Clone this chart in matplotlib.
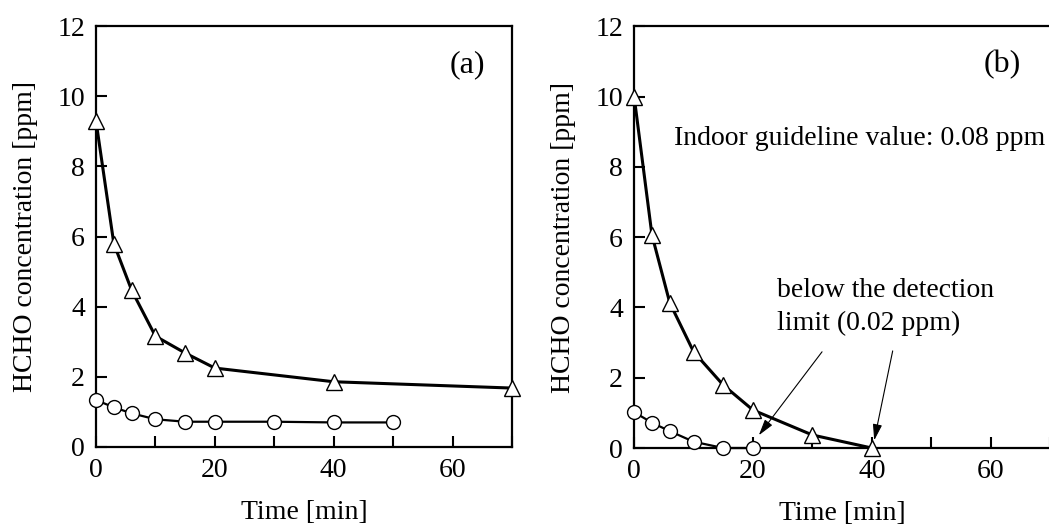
import numpy as np
import matplotlib
matplotlib.use("Agg")
import matplotlib.pyplot as plt

plt.rcParams['font.family'] = ['Liberation Serif', 'DejaVu Serif']
plt.rcParams['font.size'] = 20

# panel (a)
ta_tri = [0, 3, 6, 10, 15, 20, 40, 70]
ca_tri = [9.3, 5.8, 4.47, 3.16, 2.68, 2.25, 1.86, 1.68]
ta_cir = [0, 3, 6, 10, 15, 20, 30, 40, 50]
ca_cir = [1.34, 1.13, 0.96, 0.79, 0.72, 0.72, 0.72, 0.70, 0.70]

# panel (b)
tb_tri = [0, 3, 6, 10, 15, 20, 30, 40]
cb_tri = [10.0, 6.06, 4.13, 2.74, 1.79, 1.08, 0.37, 0.0]
tb_cir = [0, 3, 6, 10, 15, 20]
cb_cir = [1.02, 0.72, 0.48, 0.18, 0.0, 0.0]

xticks = [0, 10, 20, 30, 40, 50, 60, 70]
xlabels = ['0', '', '20', '', '40', '', '60', '']
yticks = [0, 2, 4, 6, 8, 10, 12]

fig = plt.figure(figsize=(10.49, 5.24), dpi=100)
ax1 = fig.add_axes([0.0915, 0.147, 0.3966, 0.803])
ax2 = fig.add_axes([0.6045, 0.145, 0.3966, 0.805])

def style(ax):
   ax.set_xlim(0, 70)
   ax.set_ylim(0, 12)
   ax.set_xticks(xticks)
   ax.set_xticklabels(xlabels)
   ax.set_yticks(yticks)
   ax.tick_params(direction='in', length=8, width=1.5, top=False, right=False, pad=8)
   for s in ax.spines.values():
      s.set_linewidth(1.6)
   ax.set_xlabel("Time [min]", labelpad=12)
   ax.set_ylabel("HCHO concentration [ppm]", labelpad=14)

for ax, tt, ct, tc, cc in [(ax1, ta_tri, ca_tri, ta_cir, ca_cir),
                           (ax2, tb_tri, cb_tri, tb_cir, cb_cir)]:
   ax.plot(tt, ct, '-', color='k', lw=2.2, marker='^', ms=11,
           mfc='white', mec='k', mew=1.0, clip_on=False, zorder=3)
   ax.plot(tc, cc, '-', color='k', lw=1.6, marker='o', ms=10,
           mfc='white', mec='k', mew=1.0, clip_on=False, zorder=3)
   style(ax)

ax1.text(62.5, 10.9, "(a)", fontsize=23, ha='center', va='center')
ax2.text(62, 10.9, "(b)", fontsize=23, ha='center', va='center')
ax2.text(6.7, 8.8, "Indoor guideline value: 0.08 ppm", fontsize=20, va='center')
ax2.text(24.1, 4.47, "below the detection", fontsize=20, va='center')
ax2.text(24.1, 3.55, "limit (0.02 ppm)", fontsize=20, va='center')
arr = dict(arrowstyle='-|>,head_length=0.7,head_width=0.2', color='k', lw=0.8, mutation_scale=14)
ax2.annotate("", xy=(20.7, 0.3), xytext=(31.9, 2.8), arrowprops=arr)
ax2.annotate("", xy=(40.3, 0.14), xytext=(43.6, 2.84), arrowprops=arr)

fig.savefig("out.png", dpi=100)
